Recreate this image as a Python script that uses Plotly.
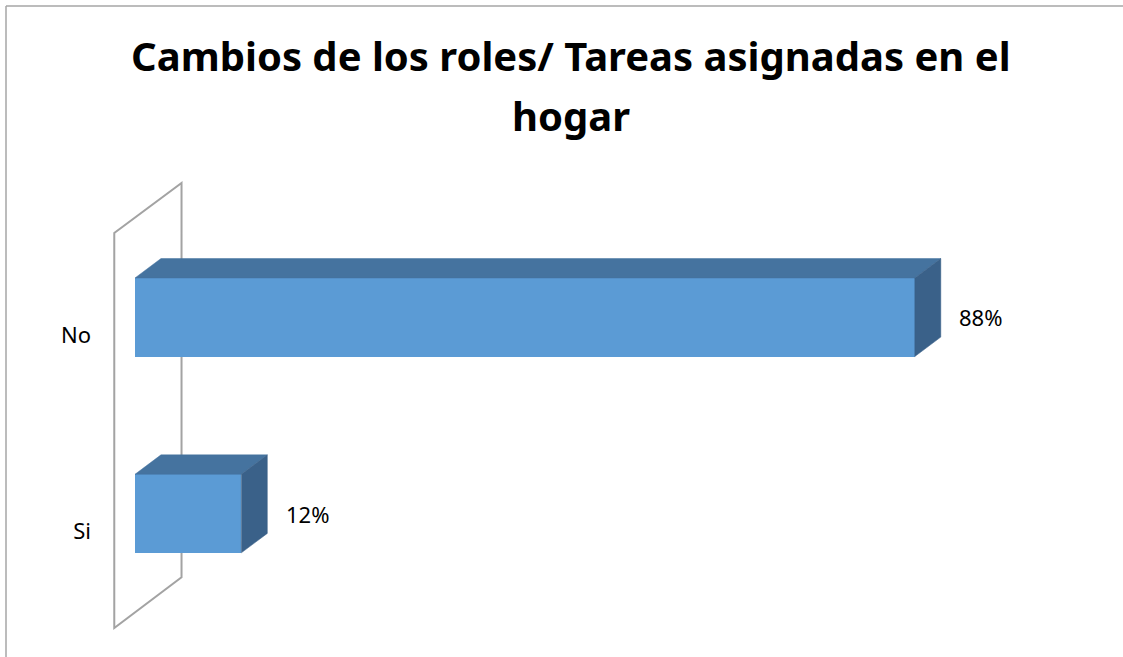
# plot.py
# Cambios de los roles / tareas asignadas en el hogar - 3D-style horizontal bars

import plotly.graph_objects as go

# --- data ---------------------------------------------------------------
categories = ["Si", "No"]
values = [12, 88]          # percent
value_labels = ["12%", "88%"]
title_lines = ["Cambios de los roles/ Tareas asignadas en el", "hogar"]

# --- style --------------------------------------------------------------
FRONT = "#5B9BD5"
TOP = "#45739F"
SIDE = "#3A6189"
WALL = "#A3A3A3"
FONT = "Noto Sans"

BAR_W = 0.40          # bar thickness in category units
DEPTH_X = 2.93        # 3D depth offset, x units
DEPTH_Y = 0.099       # 3D depth offset, category units

X_RANGE = [-3.95, 98.74]
Y_RANGE = [-0.644, 1.75]

pos = list(range(len(categories)))

fig = go.Figure()

# back wall (outline only), as a shape below the traces so bars hide it
wall_x = [-2.34, -2.34, 5.25, 5.25]
wall_y = [-0.583, 1.429, 1.684, -0.324]
wall_path = "M " + " L ".join(f"{x},{y}" for x, y in zip(wall_x, wall_y)) + " Z"
fig.add_shape(type="path", path=wall_path, xref="x", yref="y",
              line=dict(color=WALL, width=2), layer="below")

# top and side faces of every bar
for p, v in zip(pos, values):
    y0, y1 = p - BAR_W / 2, p + BAR_W / 2
    fig.add_trace(go.Scatter(
        x=[0, v, v + DEPTH_X, DEPTH_X, 0],
        y=[y1, y1, y1 + DEPTH_Y, y1 + DEPTH_Y, y1],
        mode="lines", fill="toself", fillcolor=TOP,
        line=dict(color=TOP, width=0.5),
        hoverinfo="skip", showlegend=False,
    ))
    fig.add_trace(go.Scatter(
        x=[v, v, v + DEPTH_X, v + DEPTH_X, v],
        y=[y0, y1, y1 + DEPTH_Y, y0 + DEPTH_Y, y0],
        mode="lines", fill="toself", fillcolor=SIDE,
        line=dict(color=SIDE, width=0.5),
        hoverinfo="skip", showlegend=False,
    ))

# front faces
fig.add_trace(go.Bar(
    x=values, y=pos, orientation="h", width=BAR_W,
    marker=dict(color=FRONT, line=dict(width=0)),
    hovertemplate="%{x}%<extra></extra>",
    showlegend=False,
))

# value labels right of each bar
for p, v, lab in zip(pos, values, value_labels):
    fig.add_annotation(
        x=v + DEPTH_X + 1.85, y=p, xref="x", yref="y",
        text=lab, showarrow=False, xanchor="left", yanchor="middle",
        font=dict(family=FONT, size=22, color="black"),
    )

# title, two lines placed separately to get the wide line spacing
for txt, ty in zip(title_lines, [1.243, 1.117]):
    fig.add_annotation(
        x=0.518, y=ty, xref="paper", yref="paper",
        text=f"<b>{txt}</b>", showarrow=False,
        xanchor="center", yanchor="middle",
        font=dict(family=FONT, size=40, color="black"),
    )

# chart frame (top and left edges visible)
fig.add_shape(type="line", xref="paper", yref="paper",
              x0=-0.1033, y0=1.349, x1=1.125, y1=1.349,
              line=dict(color="#A6A6A6", width=1.5))
fig.add_shape(type="line", xref="paper", yref="paper",
              x0=-0.1033, y0=1.349, x1=-0.1033, y1=-0.04,
              line=dict(color="#A6A6A6", width=1.5))

fig.update_xaxes(
    range=X_RANGE, showticklabels=False, showgrid=False,
    zeroline=False, showline=False,
)
fig.update_yaxes(
    range=Y_RANGE,
    tickvals=[p - 0.09 for p in pos], ticktext=categories,
    showgrid=False, zeroline=False, showline=False, ticks="",
    ticklabelstandoff=8,
    tickfont=dict(family=FONT, size=22, color="black"),
)

fig.update_layout(
    width=1123, height=657,
    margin=dict(l=100, r=113, t=170, b=17),
    plot_bgcolor="white", paper_bgcolor="white",
    bargap=0,
    font=dict(family=FONT),
)

# page body has a default 8px margin; drop it so the figure sits at 0,0
fig.write_html("out.html", config={"displayModeBar": False},
               post_script="document.body.style.margin='0px';")
